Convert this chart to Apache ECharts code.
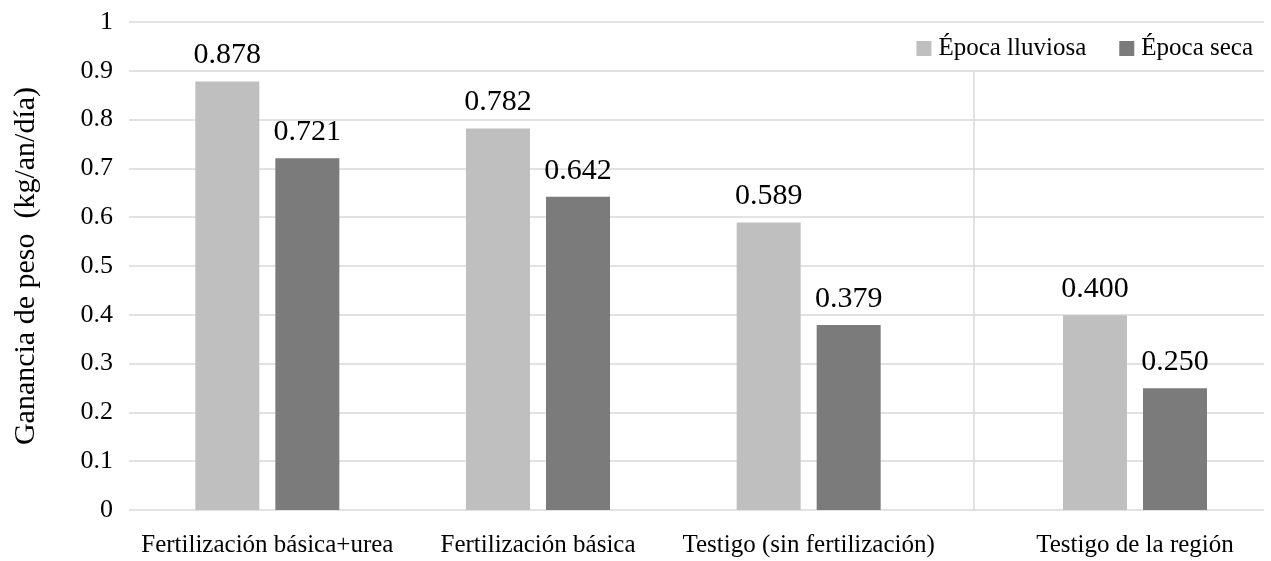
<!DOCTYPE html>
<html>
<head>
<meta charset="utf-8">
<script src="https://cdn.jsdelivr.net/npm/echarts@6/dist/echarts.min.js"></script>
<style>
html,body{margin:0;padding:0;background:#fff;}
#chart{width:1271px;height:561px;}
</style>
</head>
<body>
<div id="chart"></div>
<script>
const categories = ['Fertilización básica+urea', 'Fertilización básica', 'Testigo (sin fertilización)', 'Testigo de la región'];
const seriesNames = ['Época lluviosa', 'Época seca'];
const rainy = [0.878, 0.782, 0.589, 0.400];
const dry = [0.721, 0.642, 0.379, 0.250];
const yTicks = [0, 0.1, 0.2, 0.3, 0.4, 0.5, 0.6, 0.7, 0.8, 0.9, 1];

const FONT = "'Liberation Serif', 'Times New Roman', serif";
const LIGHT = '#bfbfbf';
const DARK = '#7b7b7b';
const GRIDC = '#d9d9d9';

const chart = echarts.init(document.getElementById('chart'));

function barSeries(name, data, color, idx) {
  return {
    name: name,
    type: 'bar',
    xAxisIndex: idx,
    yAxisIndex: idx,
    data: data,
    barWidth: 64,
    barGap: '25%',
    itemStyle: { color: color },
    label: {
      show: true,
      position: 'top',
      distance: 11,
      color: '#000',
      fontFamily: FONT,
      fontSize: 30,
      formatter: p => Number(p.value).toFixed(3)
    }
  };
}

const xLabelStyle = { color: '#000', fontFamily: FONT, fontSize: 25, margin: 23, interval: 0 };

const option = {
  backgroundColor: '#fff',
  animation: false,
  legend: {
    data: seriesNames.map(n => ({ name: n, icon: 'rect' })),
    right: 13,
    top: 31,
    itemWidth: 15,
    itemHeight: 15,
    itemGap: 33,
    textStyle: { color: '#000', fontFamily: FONT, fontSize: 25, padding: [0, 0, 0, 2] }
  },
  grid: [
    { left: 129, right: 7, top: 22, bottom: 51 },
    { left: 132, width: 812, top: 22, bottom: 51 },
    { left: 1006, right: 7, top: 72, bottom: 51 }
  ],
  xAxis: [
    { gridIndex: 0, type: 'category', data: [''], show: false },
    { gridIndex: 1, type: 'category', data: categories.slice(0, 3),
      axisLine: { show: false }, axisTick: { show: false }, axisLabel: xLabelStyle },
    { gridIndex: 2, type: 'category', data: categories.slice(3),
      axisLine: { show: false }, axisTick: { show: false }, axisLabel: xLabelStyle }
  ],
  yAxis: [
    { gridIndex: 0, type: 'value', min: yTicks[0], max: yTicks[yTicks.length - 1], interval: 0.1,
      name: 'Ganancia de peso  (kg/an/día)', nameLocation: 'middle', nameGap: 88, nameRotate: 90,
      nameTextStyle: { color: '#000', fontFamily: FONT, fontSize: 30 },
      axisLine: { show: false }, axisTick: { show: false },
      axisLabel: { color: '#000', fontFamily: FONT, fontSize: 26, margin: 16 },
      splitLine: { show: true, lineStyle: { color: GRIDC, width: 1.5 } } },
    { gridIndex: 1, type: 'value', min: 0, max: 1, show: false },
    { gridIndex: 2, type: 'value', min: 0, max: 0.9, interval: 0.1, offset: 32,
      axisLine: { show: true, lineStyle: { color: GRIDC, width: 1.5 } },
      axisTick: { show: false }, axisLabel: { show: false }, splitLine: { show: false } }
  ],
  series: [
    barSeries(seriesNames[0], rainy.slice(0, 3), LIGHT, 1),
    barSeries(seriesNames[1], dry.slice(0, 3), DARK, 1),
    barSeries(seriesNames[0], rainy.slice(3), LIGHT, 2),
    barSeries(seriesNames[1], dry.slice(3), DARK, 2)
  ]
};
chart.setOption(option);
</script>
</body>
</html>
